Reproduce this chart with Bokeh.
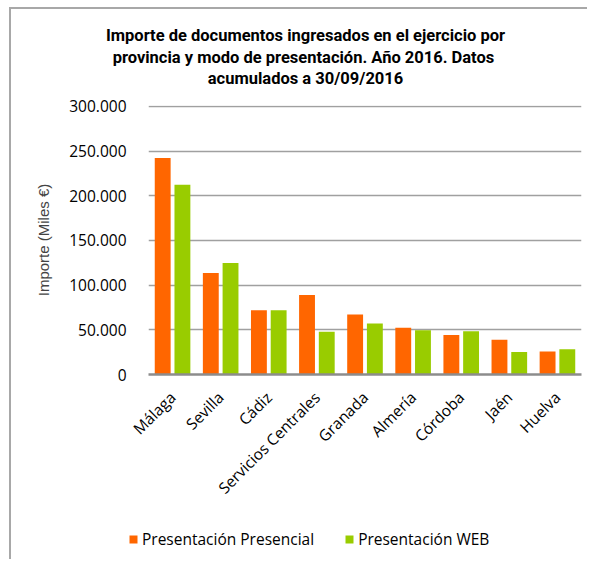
from bokeh.plotting import figure
from bokeh.models import (ColumnDataSource, FactorRange, Range1d, FixedTicker,
                          CustomJSTickFormatter, Label, Legend, LegendItem)
from bokeh.transform import dodge
from bokeh.embed import file_html
from bokeh.resources import INLINE
import math

# ---- data ----
categories = ["Málaga", "Sevilla", "Cádiz", "Servicios Centrales", "Granada",
              "Almería", "Córdoba", "Jaén", "Huelva"]
presencial = [242200, 113600, 71900, 89000, 67100, 52200, 44300, 38800, 25700]
web = [212400, 124800, 71900, 47700, 57000, 49600, 48400, 25300, 28300]
y_ticks = [0, 50000, 100000, 150000, 200000, 250000, 300000]
series_names = ["Presentación Presencial", "Presentación WEB"]
title_lines = ["Importe de documentos ingresados en el ejercicio por",
               "provincia y  modo de presentación. Año 2016. Datos",
               "acumulados a 30/09/2016"]
y_label = "Importe (Miles €)"

ORANGE = "#FF6600"
GREEN = "#99CC00"
FONT = "Open Sans"
BORDER = "2px solid #a8a8a8"

source = ColumnDataSource(dict(cat=categories, pres=presencial, web=web))
xr = FactorRange(*categories, range_padding=0)

# ---- title strip ----
tfig = figure(width=578, height=89, x_range=Range1d(0, 1), y_range=Range1d(0, 1),
              output_backend="svg", toolbar_location=None, title_location=None,
              x_axis_location=None, y_axis_location=None,
              min_border_left=0, min_border_right=0, min_border_top=0, min_border_bottom=0)
tfig.styles = {"margin-left": "9px", "margin-top": "7px",
               "border-left": BORDER, "border-top": BORDER}
tfig.outline_line_color = None
tfig.grid.visible = False
for i, line in enumerate(title_lines):
    tfig.add_layout(Label(x=294, y=63 - i * 21.5, x_units="screen", y_units="screen",
                          text=line, text_align="center", text_baseline="middle",
                          text_font="Roboto", text_font_style="bold",
                          text_font_size="16.5px", text_color="#000000"))

# ---- main chart ----
p = figure(x_range=xr, y_range=Range1d(0, 301000),
           width=578, height=418, title_location=None,
           output_backend="svg", toolbar_location=None,
           min_border_left=137, min_border_right=8,
           min_border_top=9, min_border_bottom=140)
p.styles = {"margin-left": "9px", "border-left": BORDER}

r1 = p.vbar(x=dodge("cat", -0.205, range=xr), top="pres", width=0.33,
            source=source, fill_color=ORANGE, line_color=None)
r2 = p.vbar(x=dodge("cat", 0.205, range=xr), top="web", width=0.33,
            source=source, fill_color=GREEN, line_color=None)

p.outline_line_color = None
p.xgrid.grid_line_color = None
p.ygrid.grid_line_color = "#a0a0a0"
p.ygrid.grid_line_width = 1.5

p.yaxis.ticker = FixedTicker(ticks=y_ticks)
p.yaxis.formatter = CustomJSTickFormatter(
    code="return Math.round(tick).toString().replace(/\\B(?=(\\d{3})+(?!\\d))/g, '.');")
p.yaxis.axis_line_color = None
p.yaxis.major_tick_line_color = None
p.yaxis.minor_tick_line_color = None
p.yaxis.major_label_standoff = 16
p.yaxis.major_label_text_font = FONT
p.yaxis.major_label_text_font_size = "15.5px"
p.yaxis.major_label_text_color = "#000000"
p.yaxis.axis_label = y_label
p.yaxis.axis_label_text_font = "Liberation Sans"
p.yaxis.axis_label_text_font_style = "normal"
p.yaxis.axis_label_text_font_size = "15px"
p.yaxis.axis_label_standoff = 14

p.xaxis.axis_line_color = "#8c8c8c"
p.xaxis.axis_line_width = 2.5
p.xaxis.major_tick_line_color = None
p.xaxis.minor_tick_line_color = None
p.xaxis.major_label_orientation = math.pi / 4
p.xaxis.major_label_text_font = FONT
p.xaxis.major_label_text_font_size = "15.5px"
p.xaxis.major_label_text_color = "#000000"
p.xaxis.major_label_standoff = 14

# ---- legend strip (its bars share the data but lie far outside the visible range) ----
leg = figure(width=578, height=45, x_range=xr, y_range=Range1d(5e6, 6e6),
             output_backend="svg", toolbar_location=None, title_location=None,
             x_axis_location=None, y_axis_location=None,
             min_border_left=0, min_border_right=0, min_border_top=0, min_border_bottom=0)
leg.styles = {"margin-left": "9px", "border-left": BORDER}
leg.grid.visible = False
leg.outline_line_color = None
g1 = leg.vbar(x=dodge("cat", -0.205, range=xr), top="pres", width=0.33,
              source=source, fill_color=ORANGE, line_color=None)
g2 = leg.vbar(x=dodge("cat", 0.205, range=xr), top="web", width=0.33,
              source=source, fill_color=GREEN, line_color=None)
legend = Legend(items=[LegendItem(label=series_names[0], renderers=[g1]),
                       LegendItem(label=series_names[1], renderers=[g2])],
                orientation="horizontal", location=(117, 9),
                glyph_width=10, glyph_height=10, label_standoff=4, spacing=30,
                padding=0, margin=0, border_line_color=None, background_fill_alpha=0,
                label_text_font=FONT, label_text_font_size="15.5px",
                label_text_color="#000000")
leg.add_layout(legend, "center")

open("out.html", "w").write(file_html([tfig, p, leg], INLINE))
